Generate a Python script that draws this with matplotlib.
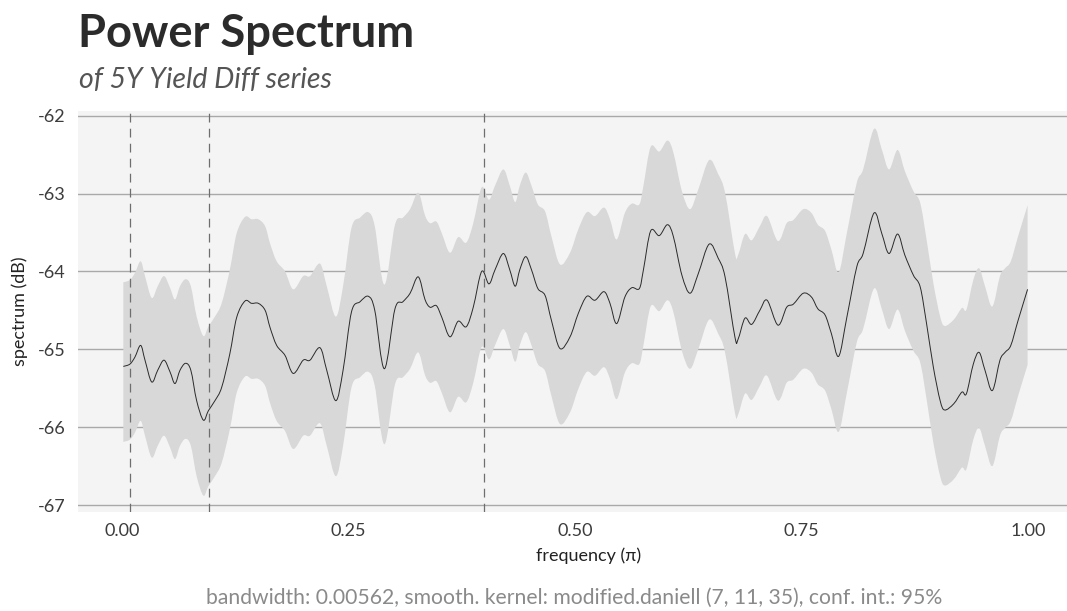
import matplotlib
matplotlib.use("Agg")
import matplotlib.pyplot as plt
from matplotlib.path import Path
from matplotlib.patches import PathPatch
import numpy as np

plt.rcParams['font.family'] = ['Lato', 'DejaVu Sans']

# Smoothed periodogram of the 5Y yield difference series (dB)
freq = [0.0015, 0.0088, 0.0143, 0.0206, 0.0254, 0.0328, 0.0394, 0.0464, 0.0530, 0.0585,
        0.0640, 0.0702, 0.0760, 0.0824, 0.0898, 0.0953, 0.1026, 0.1100, 0.1190, 0.1266,
        0.1358, 0.1430, 0.1505, 0.1580, 0.1634, 0.1707, 0.1800, 0.1890, 0.2000, 0.2075,
        0.2185, 0.2260, 0.2360, 0.2440, 0.2533, 0.2627, 0.2720, 0.2790, 0.2896, 0.3013,
        0.3100, 0.3180, 0.3270, 0.3344, 0.3400, 0.3470, 0.3530, 0.3620, 0.3710, 0.3800,
        0.3877, 0.3970, 0.4050, 0.4117, 0.4209, 0.4280, 0.4340, 0.4390, 0.4456, 0.4520,
        0.4590, 0.4670, 0.4740, 0.4834, 0.4945, 0.5036, 0.5130, 0.5220, 0.5320, 0.5386,
        0.5460, 0.5550, 0.5626, 0.5710, 0.5755, 0.5835, 0.5930, 0.6020, 0.6085, 0.6180,
        0.6270, 0.6360, 0.6480, 0.6580, 0.6656, 0.6766, 0.6800, 0.6876, 0.6950, 0.7040,
        0.7120, 0.7240, 0.7336, 0.7410, 0.7520, 0.7610, 0.7680, 0.7760, 0.7830, 0.7910,
        0.8000, 0.8110, 0.8180, 0.8300, 0.8385, 0.8466, 0.8560, 0.8640, 0.8735, 0.8810,
        0.8880, 0.8955, 0.9030, 0.9080, 0.9180, 0.9270, 0.9320, 0.9396, 0.9460, 0.9525,
        0.9606, 0.9690, 0.9746, 0.9810, 0.9890, 0.9995]
spec_db = [-65.22, -65.19, -65.10, -64.95, -65.14, -65.42, -65.27, -65.14, -65.29, -65.44,
           -65.27, -65.18, -65.27, -65.66, -65.91, -65.79, -65.66, -65.49, -65.06, -64.59,
           -64.38, -64.41, -64.41, -64.50, -64.72, -64.95, -65.08, -65.31, -65.14, -65.14,
           -64.98, -65.27, -65.66, -65.27, -64.52, -64.39, -64.32, -64.50, -65.25, -64.48,
           -64.39, -64.28, -64.07, -64.36, -64.46, -64.44, -64.59, -64.84, -64.64, -64.71,
           -64.46, -64.00, -64.16, -63.98, -63.77, -63.98, -64.19, -63.98, -63.81, -63.98,
           -64.22, -64.31, -64.63, -64.99, -64.84, -64.54, -64.32, -64.37, -64.26, -64.41,
           -64.67, -64.33, -64.21, -64.22, -63.98, -63.48, -63.54, -63.40, -63.55, -64.05,
           -64.28, -64.03, -63.65, -63.83, -64.07, -64.85, -64.87, -64.60, -64.68, -64.50,
           -64.37, -64.69, -64.46, -64.42, -64.28, -64.33, -64.48, -64.56, -64.80, -65.09,
           -64.59, -63.94, -63.77, -63.25, -63.51, -63.77, -63.52, -63.79, -64.05, -64.20,
           -64.67, -65.23, -65.66, -65.78, -65.70, -65.55, -65.57, -65.19, -65.04, -65.27,
           -65.53, -65.14, -65.04, -64.95, -64.63, -64.23]

# 95% confidence band offsets in dB (constant for a chi-square based interval)
ci_upper_db = 1.08
ci_lower_db = -0.97

# Reference frequencies marked with dashed lines
marked_freqs = [0.0085, 0.0955, 0.40]

x_ticks = [0.00, 0.25, 0.50, 0.75, 1.00]
x_tick_labels = ["0.00", "0.25", "0.50", "0.75", "1.00"]
y_ticks = [-67, -66, -65, -64, -63, -62]

title = "Power Spectrum"
subtitle = "of 5Y Yield Diff series"
caption = "bandwidth: 0.00562, smooth. kernel: modified.daniell (7, 11, 35), conf. int.: 95%"


def curve_segments(x, y):
    """Cubic Bezier vertices/codes passing through every (x, y) point."""
    pts = np.column_stack([x, y])
    n = len(pts)
    verts = [pts[0]]
    codes = [Path.MOVETO]
    for i in range(n - 1):
        p0 = pts[i - 1] if i > 0 else pts[i]
        p1 = pts[i]
        p2 = pts[i + 1]
        p3 = pts[i + 2] if i + 2 < n else pts[i + 1]
        c1 = p1 + (p2 - p0) / 6.0
        c2 = p2 - (p3 - p1) / 6.0
        verts += [c1, c2, p2]
        codes += [Path.CURVE4] * 3
    return verts, codes


f = np.array(freq)
s = np.array(spec_db)
upper = s + ci_upper_db
lower = s + ci_lower_db

fig = plt.figure(figsize=(10.67, 6.11), dpi=100)
ax = fig.add_axes([0.0728, 0.1615, 0.9272, 0.6568])
ax.set_facecolor("#f4f4f4")

# confidence ribbon: upper edge left-to-right, lower edge right-to-left
uv, uc = curve_segments(f, upper)
lv, lc = curve_segments(f[::-1], lower[::-1])
lc[0] = Path.LINETO
ribbon = Path(uv + lv + [uv[0]], uc + lc + [Path.CLOSEPOLY])
ax.add_patch(PathPatch(ribbon, facecolor="#d8d8d8", edgecolor="none", zorder=2))

sv, sc = curve_segments(f, s)
ax.add_patch(PathPatch(Path(sv, sc), facecolor="none", edgecolor="#2a2a2a",
                       linewidth=0.7, zorder=3))

for mf in marked_freqs:
    ax.axvline(mf, color="#6e6e6e", linewidth=0.9, linestyle=(0, (7, 5)), zorder=4)

for yt in y_ticks:
    ax.axhline(yt, color="#a9a9a9", linewidth=1.0, zorder=1)

ax.set_xlim(-0.0489, 1.043)
ax.set_ylim(-67.094, -61.94)
ax.set_xticks(x_ticks)
ax.set_xticklabels(x_tick_labels)
ax.set_yticks(y_ticks)
ax.set_yticklabels([str(v) for v in y_ticks])
ax.tick_params(length=0, labelsize=13, colors="#3c3c3c")
ax.tick_params(axis="x", pad=8)
ax.tick_params(axis="y", pad=9)
for sp in ax.spines.values():
    sp.set_visible(False)

ax.set_xlabel("frequency (\u03c0)", fontsize=13, color="#222222", va="center")
ax.set_ylabel("spectrum (dB)", fontsize=13, color="#222222", va="center")
ax.xaxis.set_label_coords(0.5164, -0.109)
ax.yaxis.set_label_coords(-0.0583, 0.5)

fig.text(78 / 1067, 1 - 47 / 611, title, fontsize=32.7, fontweight="bold",
         color="#2b2b2b", ha="left", va="baseline")
fig.text(79 / 1067, 1 - 88 / 611, subtitle, fontsize=20.5, style="italic",
         color="#555555", ha="left", va="baseline")
fig.text(574 / 1067, 1 - 604 / 611, caption, fontsize=15.2, color="#8a8a8a",
         ha="center", va="baseline")

fig.savefig("out.png", dpi=100)
